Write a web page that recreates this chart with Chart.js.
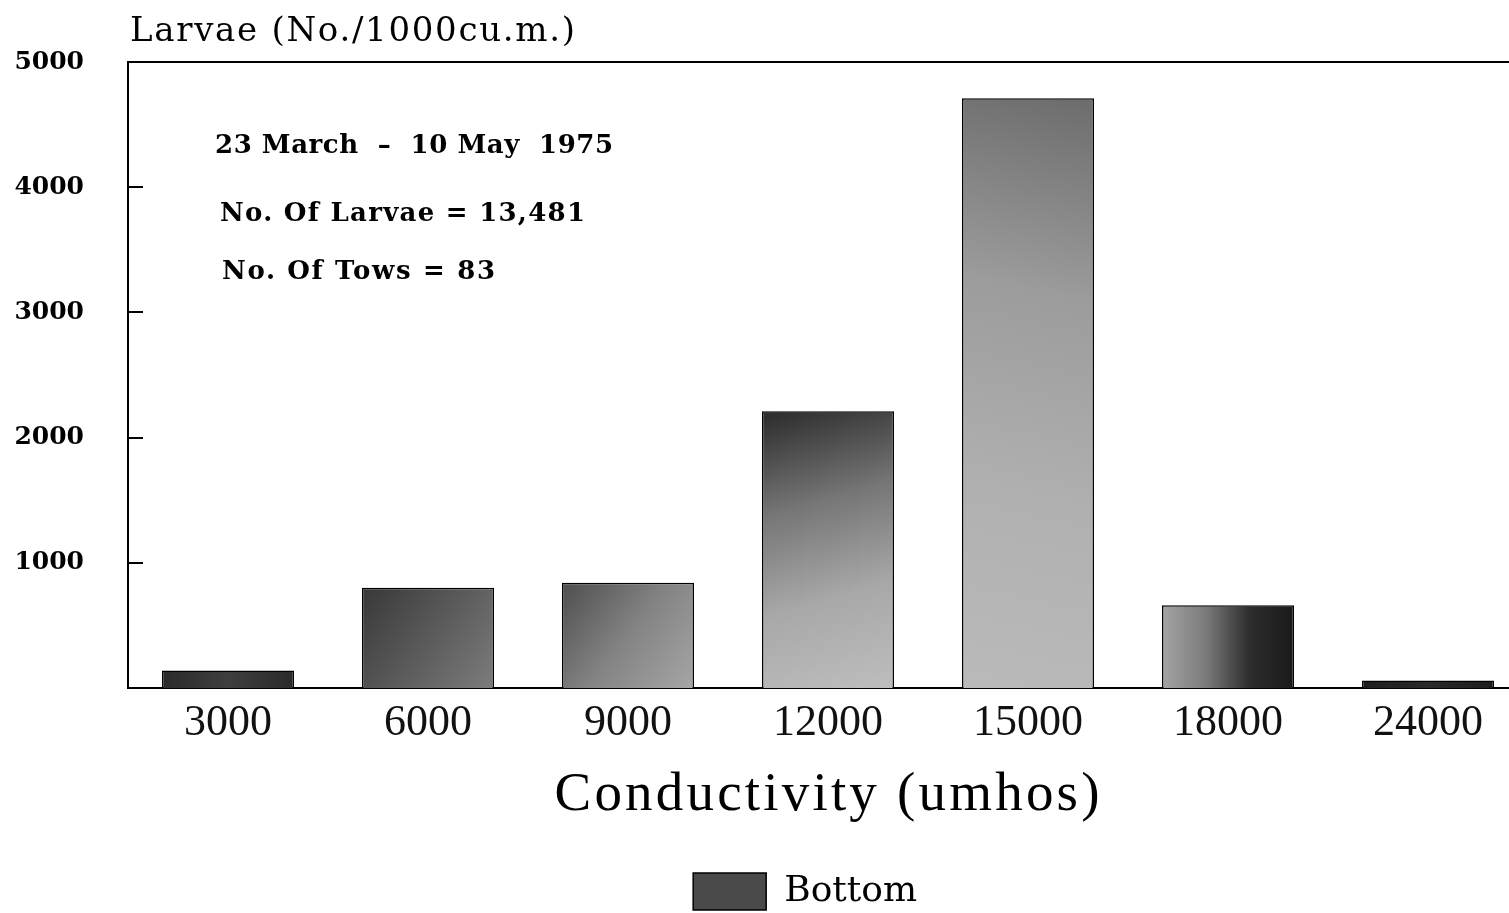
<!DOCTYPE html>
<html>
<head>
<meta charset="utf-8">
<script src="https://cdn.jsdelivr.net/npm/chart.js@4.4.1/dist/chart.umd.min.js"></script>
<style>
html,body{margin:0;padding:0;background:#fff;overflow:hidden;}
#wrap{width:1528px;height:913px;}
</style>
</head>
<body>
<div id="wrap"><canvas id="larvae-chart" width="1528" height="913"></canvas></div>
<script>
// data
const conductivity = ['3000','6000','9000','12000','15000','18000','24000'];
const larvae       = [140, 800, 840, 2210, 4710, 660, 60];
const yTicks       = [1000, 2000, 3000, 4000, 5000];
const seriesName   = 'Bottom';
const notes        = ['23 March  –  10 May  1975', 'No. Of Larvae = 13,481', 'No. Of Tows = 83'];
const yTitle       = 'Larvae (No./1000cu.m.)';
const xTitle       = 'Conductivity (umhos)';

// grey shading of each bar: gradient direction (fractions of the bar box) + stops
const shadeDir = [[0,0,1,0],[0,0,1,1],[0,0,1,1],[0.2,0,0.8,1],[0,1,1,0],[0,0,1,0],[0,0,1,0]];
const shadeStops = [
  ['#2a2a2a','#3e3e3e','#2a2a2a'],
  ['#383838','#5a5a5a','#7c7c7c'],
  ['#4e4e4e','#838383','#a6a6a6'],
  ['#303030','#767676','#a8a8a8','#bcbcbc'],
  ['#bababa','#b0b0b0','#9c9c9c','#6c6c6c'],
  ['#a4a4a4','#7a7a7a','#2c2c2c','#1a1a1a'],
  ['#1c1c1c','#2a2a2a','#1c1c1c']
];

const BAR_PCT = 0.66;
const AREA_TOP = 62, AREA_BOTTOM = 688, PAD_BOTTOM = -7;
const LEG_BOX_H = 37, LEG_PAD = 10;
const LEGEND_H = LEG_BOX_H + LEG_PAD + 10;   // what Chart.js gives a one-row legend

function barFill(c){
  const chart = c.chart, i = c.dataIndex;
  const xs = chart.scales.x, ys = chart.scales.y;
  if(i===undefined || !xs || !ys || !chart.chartArea) return '#555';
  const cx = xs.getPixelForValue(i);
  const half = xs.width / conductivity.length * BAR_PCT / 2;
  const top = ys.getPixelForValue(larvae[i]);
  const bot = ys.getPixelForValue(0);
  if(![cx,half,top,bot].every(Number.isFinite)) return '#555';
  const d = shadeDir[i], st = shadeStops[i];
  const l = cx-half, w = half*2, h = bot-top;
  const g = chart.ctx.createLinearGradient(l+d[0]*w, top+d[1]*h, l+d[2]*w, top+d[3]*h);
  st.forEach((col,k)=> g.addColorStop(k/(st.length-1), col));
  return g;
}

// draw text stretched to a given width with letter spacing
function spacedText(ctx, text, x, y, width, align){
  ctx.letterSpacing = '0px';
  const natural = ctx.measureText(text).width;
  const gap = (width - natural)/(text.length-1);
  ctx.letterSpacing = gap+'px';
  ctx.textAlign = 'left';
  const left = align==='center' ? x - width/2 : x;
  ctx.fillText(text, left, y);
  ctx.letterSpacing = '0px';
}

const extras = {
  id:'extras',
  afterDraw(chart){
    const ctx = chart.ctx, a = chart.chartArea, ys = chart.scales.y;
    ctx.save();
    ctx.strokeStyle = '#000';
    ctx.lineWidth = 2;
    // top frame line
    ctx.beginPath(); ctx.moveTo(a.left-1, a.top); ctx.lineTo(a.right, a.top); ctx.stroke();
    // inward ticks
    yTicks.slice(0,-1).forEach(v=>{
      const y = Math.round(ys.getPixelForValue(v));
      ctx.beginPath(); ctx.moveTo(a.left, y); ctx.lineTo(a.left+15, y); ctx.stroke();
    });
    ctx.fillStyle = '#000';
    ctx.textBaseline = 'alphabetic';
    // y title
    ctx.font = '34px "DejaVu Serif"';
    spacedText(ctx, yTitle, 130, 41, 445);
    // notes
    ctx.font = 'bold 26px "DejaVu Serif"';
    spacedText(ctx, notes[0], 215, 153, 398);
    spacedText(ctx, notes[1], 220, 221, 365);
    spacedText(ctx, notes[2], 222, 279, 273);
    // x title
    ctx.font = '55px "Liberation Serif"';
    spacedText(ctx, xTitle, (a.left+a.right)/2 - 1, 810, 545, 'center');
    ctx.restore();
  }
};

new Chart(document.getElementById('larvae-chart').getContext('2d'), {
  type:'bar',
  data:{
    labels: conductivity,
    datasets:[{
      label: seriesName,
      data: larvae,
      backgroundColor: barFill,
      borderColor:'#000',
      borderWidth:1.5,
      barPercentage: BAR_PCT,
      categoryPercentage: 1
    }]
  },
  options:{
    responsive:false,
    animation:false,
    layout:{ padding:{ left:0, right:0, top:AREA_TOP, bottom:PAD_BOTTOM } },
    plugins:{
      tooltip:{ enabled:false },
      legend:{
        position:'bottom',
        fullSize:false,
        labels:{
          boxWidth:73, boxHeight:LEG_BOX_H, padding:LEG_PAD, color:'#000',
          font:{ family:'"DejaVu Serif"', size:36 },
          // trailing spaces nudge the centred item left, like the original
          generateLabels: ()=> [{ text: seriesName + '    ', fillStyle:'#4a4a4a', strokeStyle:'#000', lineWidth:1.5, datasetIndex:0 }]
        }
      }
    },
    scales:{
      x:{
        grid:{ display:false, drawTicks:false },
        border:{ color:'#000', width:2 },
        ticks:{ color:'#111', padding:9, font:{ family:'"Liberation Serif"', size:44 } },
        afterFit(s){ s.height = s.chart.height - PAD_BOTTOM - LEGEND_H - AREA_BOTTOM; }
      },
      y:{
        min:0, max:5000,
        grid:{ display:false, drawTicks:false },
        border:{ color:'#000', width:2 },
        ticks:{
          stepSize:1000, padding:44, color:'#000',
          font:{ family:'"DejaVu Serif"', size:25, weight:'bold' },
          callback: v => v===0 ? '' : String(v)
        },
        afterFit(s){ s.width = 128; }
      }
    }
  },
  plugins:[extras]
});
</script>
</body>
</html>
